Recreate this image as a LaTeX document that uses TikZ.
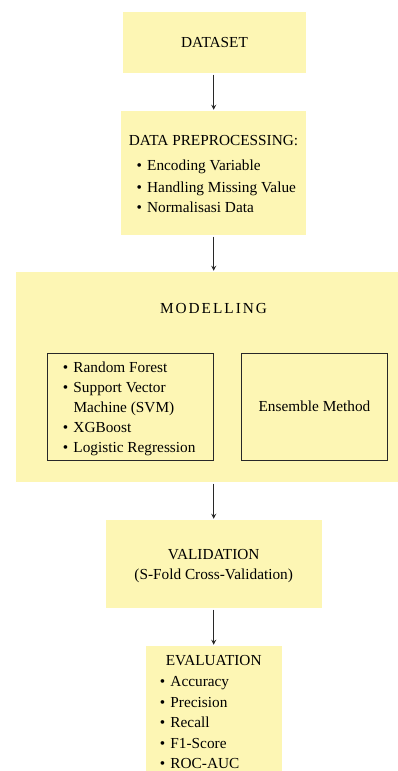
\documentclass[tikz,border=0pt]{standalone}
\usepackage{fontspec}
\setmainfont{Liberation Serif}
\newfontfamily\spacedfont[LetterSpace=13]{Liberation Serif}
\definecolor{boxfill}{RGB}{253,246,180}
\definecolor{linecol}{RGB}{40,40,40}
\usetikzlibrary{arrows.meta}
\newcommand{\bul}{\makebox[10.6pt][l]{•}}
\begin{document}
\begin{tikzpicture}[x=1pt,y=-1pt,
  yellowbox/.style={fill=boxfill, draw=none, inner sep=0pt},
  innerbox/.style={draw=linecol, line width=1.3pt, fill=none, inner sep=0pt},
  txt/.style={inner sep=0pt, font=\fontsize{15.3}{18}\selectfont, text=black},
  flowarrow/.style={draw=linecol, line width=1.1pt, -{Stealth[length=5pt,width=5pt]}, shorten <=1.5pt, shorten >=1pt}
]
\useasboundingbox (0,0) rectangle (398,771);
% boxes
\node[yellowbox, minimum width=183pt, minimum height=61pt] (ds) at (214.5,42.5) {};
\node[yellowbox, minimum width=185pt, minimum height=124pt] (pre) at (213.5,173) {};
\node[yellowbox, minimum width=382pt, minimum height=210pt] (mod) at (207,377) {};
\node[yellowbox, minimum width=216pt, minimum height=88pt] (val) at (213.7,564) {};
\node[yellowbox, minimum width=136pt, minimum height=126pt] (eva) at (214,709) {};
\node[innerbox, minimum width=165.5pt, minimum height=106.5pt] (algo) at (130.5,407) {};
\node[innerbox, minimum width=146.5pt, minimum height=106.5pt] (ens) at (314.5,407) {};
% arrows
\draw[flowarrow] (ds.south -| val.north) -- (pre.north -| val.north);
\draw[flowarrow] (pre.south -| val.north) -- (mod.north -| val.north);
\draw[flowarrow] (mod.south -| val.north) -- (val.north);
\draw[flowarrow] (val.south) -- (eva.north -| val.south);
% texts
\node[txt] (t1) at (214.5,43) {DATASET};
\node[txt, anchor=base] (t2) at (213.5,145) {DATA PREPROCESSING:};
\node[txt, anchor=base west] (t2a) at (136.4,170) {\bul Encoding Variable};
\node[txt, anchor=base west] (t2b) at (136.4,192.5) {\bul Handling Missing Value};
\node[txt, anchor=base west] (t2c) at (136.4,212.5) {\bul Normalisasi Data};
\node[txt, anchor=base] (t3) at (213.5,313) {\spacedfont MODELLING};
\node[txt, anchor=base west] (t3a) at (62.7,372.3) {\bul Random Forest};
\node[txt, anchor=base west] (t3b) at (62.7,392.3) {\bul Support Vector};
\node[txt, anchor=base west] (t3c) at (62.7,412.3) {\hspace{10.6pt}Machine (SVM)};
\node[txt, anchor=base west] (t3d) at (62.7,432.3) {\bul XGBoost};
\node[txt, anchor=base west] (t3e) at (62.7,452.3) {\bul Logistic Regression};
\node[txt, anchor=base] (t4) at (314.5,411.7) {Ensemble Method};
\node[txt, anchor=base] (t5) at (213.7,559) {VALIDATION};
\node[txt, anchor=base] (t5b) at (213.7,579.3) {(S-Fold Cross-Validation)};
\node[txt, anchor=base] (t6) at (213.7,665) {EVALUATION};
\node[txt, anchor=base west] (t6a) at (159.7,686.7) {\bul Accuracy};
\node[txt, anchor=base west] (t6b) at (159.7,707) {\bul Precision};
\node[txt, anchor=base west] (t6c) at (159.7,727.7) {\bul Recall};
\node[txt, anchor=base west] (t6d) at (159.7,748.3) {\bul F1-Score};
\node[txt, anchor=base west] (t6e) at (159.7,768) {\bul ROC-AUC};
\end{tikzpicture}
\end{document}
